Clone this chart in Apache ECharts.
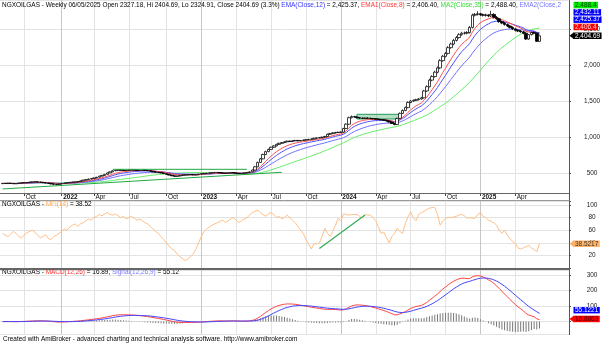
<!DOCTYPE html>
<html>
<head>
<meta charset="utf-8">
<script src="https://cdn.jsdelivr.net/npm/echarts@6.0.0/dist/echarts.min.js"></script>
<style>
html,body{margin:0;padding:0;background:#fff;}
#chart{width:612px;height:345px;}
</style>
</head>
<body>
<div id="chart"></div>
<script>
// ---------------- data (weekly bars) ----------------
const firstWeek = '2021-08-06';
const lastBarLabel = '2025-06-05';
const trailingSlots = 11;

const opens = [356,360,358,362,360,355,358,365,368,370,
 372,378,380,382,378,376,370,365,360,352,
 348,345,352,358,365,370,375,378,380,385,
 395,405,412,420,428,435,445,460,470,485,
 505,520,535,540,545,542,538,540,545,548,
 545,540,542,545,540,535,528,520,515,510,
 505,495,485,475,465,458,462,470,475,478,
 480,482,478,480,488,495,498,500,505,508,
 512,510,505,502,500,505,510,505,500,495,
 498,505,512,520,545,590,650,700,760,800,
 830,860,880,900,915,925,935,945,940,950,
 955,950,955,960,965,970,975,985,990,995,
 1000,1010,1040,1050,1060,1065,1068,1070,1120,1180,
 1270,1285,1280,1270,1265,1260,1265,1262,1258,1255,
 1250,1245,1240,1235,1225,1210,1190,1175,1260,1330,
 1370,1410,1480,1500,1510,1520,1530,1545,1640,1700,
 1790,1840,1900,1960,2060,2120,2160,2240,2290,2340,
 2380,2420,2440,2440,2450,2520,2690,2700,2710,2695,
 2690,2690,2680,2700,2660,2640,2600,2580,2560,2540,
 2520,2500,2480,2470,2460,2440,2360,2420,2450,2440,
 2327.18];

const closes = [360,358,362,360,355,358,365,368,370,372,
 378,380,382,378,376,370,365,360,352,348,
 345,352,358,365,370,375,378,380,385,395,
 405,412,420,428,435,445,460,470,485,505,
 520,535,540,545,542,538,540,545,548,545,
 540,542,545,540,535,528,520,515,510,505,
 495,485,475,465,458,462,470,475,478,480,
 482,478,480,488,495,498,500,505,508,512,
 510,505,502,500,505,510,505,500,495,498,
 505,512,520,545,590,650,700,760,800,830,
 860,880,900,915,925,935,945,940,950,955,
 950,955,960,965,970,975,985,990,995,1000,
 1010,1040,1050,1060,1065,1068,1070,1120,1180,1270,
 1285,1280,1270,1265,1260,1265,1262,1258,1255,1250,
 1245,1240,1235,1225,1210,1190,1175,1260,1330,1370,
 1410,1480,1500,1510,1520,1530,1545,1640,1700,1790,
 1840,1900,1960,2060,2120,2160,2240,2290,2340,2380,
 2420,2440,2440,2450,2520,2690,2700,2710,2695,2690,
 2690,2680,2700,2660,2640,2600,2580,2560,2540,2520,
 2500,2480,2470,2460,2440,2360,2420,2450,2440,2328,
 2404.69];

const highs = [364,363,366,365,362,361,368,372,374,376,
 382,385,386,386,382,379,374,368,363,356,
 351,355,362,368,374,379,382,384,389,399,
 409,417,425,433,440,451,466,477,492,512,
 526,541,547,551,550,547,545,550,554,553,
 550,546,549,550,544,539,532,524,519,514,
 509,499,489,479,469,466,474,479,482,484,
 486,486,484,492,499,502,505,510,513,517,
 517,514,509,506,509,515,514,509,504,502,
 509,517,526,552,600,662,712,772,812,842,
 870,890,910,925,933,943,953,952,958,963,
 962,961,966,971,976,981,992,997,1002,1008,
 1018,1050,1060,1070,1074,1076,1079,1130,1192,1285,
 1300,1296,1290,1280,1274,1274,1274,1270,1266,1263,
 1258,1253,1248,1243,1233,1218,1198,1270,1342,1385,
 1425,1495,1515,1522,1532,1542,1560,1655,1718,1810,
 1858,1920,1980,2080,2140,2180,2262,2310,2360,2400,
 2440,2460,2462,2468,2540,2712,2720,2745,2722,2712,
 2710,2705,2750,2718,2678,2655,2615,2595,2575,2556,
 2536,2516,2495,2485,2476,2455,2430,2462,2465,2452,
 2404.69];

const lows = [352,355,355,357,352,351,355,362,364,366,
 368,374,376,375,372,366,361,356,348,344,
 341,342,349,355,361,366,371,374,377,382,
 391,401,408,416,423,430,441,455,465,480,
 500,515,530,535,537,533,533,535,541,540,
 535,536,538,535,530,523,515,510,505,500,
 491,481,471,461,453,454,458,466,471,474,
 476,474,474,476,484,491,494,496,501,504,
 506,501,498,496,496,501,501,496,491,490,
 494,501,508,516,540,585,644,694,752,792,
 822,852,872,892,908,918,928,933,932,943,
 943,942,948,953,958,963,968,978,983,988,
 992,1002,1032,1042,1052,1057,1060,1062,1112,1172,
 1260,1272,1262,1257,1252,1252,1254,1250,1247,1243,
 1237,1232,1227,1217,1202,1182,1165,1168,1252,1320,
 1360,1400,1470,1490,1500,1510,1520,1535,1628,1690,
 1775,1825,1885,1945,2045,2105,2145,2225,2275,2325,
 2365,2405,2422,2425,2435,2505,2672,2685,2680,2672,
 2670,2662,2665,2645,2625,2585,2565,2545,2525,2505,
 2485,2465,2455,2445,2425,2345,2350,2408,2425,2318,
 2324.91];

const mfiValues = [55,52,50,54,58,55,50,48,52,56,
 58,60,57,52,48,50,53,47,45,50,
 52,55,58,62,60,65,68,70,66,70,
 72,75,78,76,80,82,85,83,86,88,
 85,84,86,83,80,82,78,80,82,79,
 76,78,75,72,70,66,62,58,55,50,
 45,40,35,30,28,22,18,15,12,14,
 18,22,30,40,50,58,62,65,68,70,
 72,74,76,72,75,78,80,76,72,75,
 78,80,84,88,90,92,88,85,82,86,
 88,85,80,82,78,80,84,80,76,72,
 66,60,55,45,38,30,39,38,40,50,
 63,55,50,58,68,79,75,86,85,84,
 85,85,85,82,79,85,84,84,80,75,
 65,55,57,48,40,50,55,63,58,55,
 70,81,89,80,75,85,88,90,93,95,
 96,96,85,68,75,79,80,80,81,82,
 84,85,83,79,80,79,79,85,88,82,
 80,76,74,72,68,60,55,60,52,47,
 42,39,32,30,32,34,36,32,29,26,
 38.52];

// drawn trend lines / channel (date, value)
const priceTrendA = [['2021-08-06', 283], ['2023-08-04', 514]];
const priceTrendB = [['2022-05-20', 555], ['2023-05-05', 555]];
const priceChannel = [['2024-02-16', 1317], ['2024-06-07', 1252]];
const mfiTrend = [['2023-11-10', 31], ['2024-03-08', 84]];

// last values as printed by the source
const lastMA35 = 2488.40, lastEMA2 = 2432.11, lastEMA12 = 2425.37, lastEMA8 = 2406.40, lastClose = 2404.69;
const lastMFI = 38.5217, lastMACD = 16.8863, lastSignal = 55.1221;

// ---------------- derived ----------------
const DAY = 86400000;
const t0 = Date.parse(firstWeek + 'T00:00:00Z');
const iso = ms => new Date(ms).toISOString().slice(0, 10);
const categories = [iso(t0 - 7 * DAY)];
for (let w = 0; w < closes.length; w++) categories.push(w === closes.length - 1 ? lastBarLabel : iso(t0 + 7 * w * DAY));
for (let k = 1; k <= trailingSlots; k++) categories.push('+' + k);
const NB = closes.length;
const pad = arr => ['-'].concat(arr, new Array(trailingSlots).fill('-'));

function ema(src, n) { const a = 2 / (n + 1); const out = []; let e = src[0]; src.forEach((v, i) => { e = i ? a * v + (1 - a) * e : v; out.push(+e.toFixed(2)); }); return out; }
function sma(src, n) { const out = []; let s = 0; src.forEach((v, i) => { s += v; if (i >= n) s -= src[i - n]; out.push(+(s / Math.min(i + 1, n)).toFixed(2)); }); return out; }

const candles = closes.map((c, i) => [opens[i], c, lows[i], highs[i]]);
const ema8 = ema(closes, 8), ema12 = ema(closes, 12), ema21 = ema(closes, 21), ma35 = sma(closes, 35);
const ema26 = ema(closes, 26);
const macd = ema12.map((v, i) => +(v - ema26[i]).toFixed(2));
const signal = ema(macd, 9);
const hist = macd.map((v, i) => +(v - signal[i]).toFixed(2));
const hAbs = Math.abs(Math.min(...hist));

const monthNames = ['Jan','Feb','Mar','Apr','May','Jun','Jul','Aug','Sep','Oct','Nov','Dec'];
const dOf = i => new Date(categories[i] + 'T00:00:00Z');
function isQuarterStart(i) {
  if (i < 1 || i > NB) return false;
  const m = dOf(i).getUTCMonth();
  return m !== dOf(i - 1).getUTCMonth() && m % 3 === 0;
}

const FS = 6.45, FF = '"Liberation Sans", Arial, sans-serif';
const gridCol = '#e3e3e3';
const splitX = { show: true, interval: (i) => isQuarterStart(i), lineStyle: { color: [gridCol, '#c6c6c6', gridCol, gridCol], width: 1 } };

function xAx(grid, showLabels) {
  return {
    type: 'category', gridIndex: grid, data: categories, boundaryGap: false,
    axisLine: { show: false },
    axisTick: { show: showLabels, interval: (i) => isQuarterStart(i), length: 3, lineStyle: { color: '#444' } },
    axisLabel: {
      show: showLabels, interval: (i) => isQuarterStart(i), align: 'left', margin: 1, padding: [0, 0, 0, 1.5],
      fontSize: FS, fontFamily: FF, color: '#111',
      formatter: (v) => { const d = new Date(v + 'T00:00:00Z'); const m = d.getUTCMonth(); return m === 0 ? '{y|' + d.getUTCFullYear() + '}' : monthNames[m]; },
      rich: { y: { fontWeight: 'bold', fontSize: FS, fontFamily: FF, color: '#111' } }
    },
    splitLine: splitX
  };
}
function yAx(grid, cfg) {
  return Object.assign({
    type: 'value', gridIndex: grid, position: 'right', scale: true,
    axisLine: { show: false },
    axisTick: { show: true, length: 2, lineStyle: { color: '#555' } },
    splitLine: { show: true, lineStyle: { color: gridCol, width: 1 } }
  }, cfg);
}
const yLab = (fmt, edges) => ({ fontSize: FS, fontFamily: FF, color: '#222', margin: 23, align: 'center', showMinLabel: edges, showMaxLabel: edges, formatter: fmt });

const rt = (s, c) => '{' + c + '|' + s + '}';
const tStyle = c => ({ color: c, fontSize: FS, fontFamily: FF, fontWeight: 'normal' });
const titleRich = { k: tStyle('#000'), b: tStyle('#3333ff'), r: tStyle('#ff3333'), g: tStyle('#33dd33'), o: tStyle('#ffaa55'), p: tStyle('#7777ff') };
const tTitle = (left, top, text) => ({ left, top, padding: 0, text, textStyle: { fontWeight: 'normal', fontSize: FS, fontFamily: FF, rich: titleRich } });

const option = {
  animation: false,
  backgroundColor: '#fff',
  title: [
    tTitle(2, 2, rt('NGXOILGAS - Weekly 06/05/2025 Open 2327.18, Hi 2404.69, Lo 2324.91, Close 2404.69 (3.3%) ', 'k') + rt('EMA(Close,12)', 'b') + rt(' = 2,425.37, ', 'k') + rt('EMA1(Close,8)', 'r') + rt(' = 2,406.40, ', 'k') + rt('MA2(Close,35)', 'g') + rt(' = 2,488.40, ', 'k') + rt('EMA2(Close,2', 'p')),
    tTitle(2, 201.5, rt('NGXOILGAS - ', 'k') + rt('MFI(14)', 'o') + rt(' = 38.52', 'k')),
    tTitle(2, 269.5, rt('NGXOILGAS - ', 'k') + rt('MACD(12,26)', 'r') + rt(' = 16.89, ', 'k') + rt('Signal(12,26,9)', 'p') + rt(' = 55.12', 'k')),
    tTitle(3, 336.5, rt('Created with AmiBroker - advanced charting and technical analysis software. http://www.amibroker.com', 'k'))
  ],
  grid: [
    { left: 0, right: 43, top: 0, height: 193 },
    { left: 0, right: 43, top: 201, height: 67 },
    { left: 0, right: 43, top: 270, height: 64 }
  ],
  xAxis: [xAx(0, true), xAx(1, false), xAx(2, false)],
  yAxis: [
    yAx(0, { min: 227, max: 2900, splitNumber: 5, axisLabel: yLab(v => v.toLocaleString('en-US'), false) }),
    yAx(1, { min: 0, max: 106.4, interval: 20, axisLabel: yLab(v => (v > 0 && v <= 100 ? String(v) : ''), true) }),
    yAx(2, { min: -80, max: 332, splitNumber: 4, axisLabel: yLab(v => (v > 0 ? String(v) : ''), false) }),
    { type: 'value', gridIndex: 2, show: false, min: -1.19 * hAbs, max: 4.96 * hAbs, splitLine: { show: false } }
  ],
  series: [
    { type: 'candlestick', xAxisIndex: 0, yAxisIndex: 0, data: pad(candles), barWidth: 3,
      itemStyle: { color: '#ffffff', color0: '#000000', borderColor: '#111111', borderColor0: '#000000', borderWidth: 0.8 },
      markArea: { silent: true, itemStyle: { color: 'rgba(40,170,90,0.35)', borderColor: '#22995a', borderWidth: 1 },
        data: [[{ coord: [priceChannel[0][0], priceChannel[0][1]] }, { coord: [priceChannel[1][0], priceChannel[1][1]] }]] } },
    { type: 'line', name: 'MA35', data: pad(ma35), showSymbol: false, lineStyle: { color: '#66ee66', width: 1 }, xAxisIndex: 0, yAxisIndex: 0, z: 1 },
    { type: 'line', name: 'EMA21', data: pad(ema21), showSymbol: false, lineStyle: { color: '#7070ff', width: 1 }, xAxisIndex: 0, yAxisIndex: 0, z: 1 },
    { type: 'line', name: 'EMA12', data: pad(ema12), showSymbol: false, lineStyle: { color: '#5050ff', width: 1 }, xAxisIndex: 0, yAxisIndex: 0, z: 1 },
    { type: 'line', name: 'EMA8', data: pad(ema8), showSymbol: false, lineStyle: { color: '#ff5050', width: 1 }, xAxisIndex: 0, yAxisIndex: 0, z: 1 },
    { type: 'line', data: priceTrendA, showSymbol: false, lineStyle: { color: '#22aa44', width: 1 }, xAxisIndex: 0, yAxisIndex: 0, z: 3 },
    { type: 'line', data: priceTrendB, showSymbol: false, lineStyle: { color: '#22aa44', width: 1 }, xAxisIndex: 0, yAxisIndex: 0, z: 3 },
    { type: 'line', data: pad(mfiValues), showSymbol: false, lineStyle: { color: '#ffc088', width: 1 }, xAxisIndex: 1, yAxisIndex: 1 },
    { type: 'line', data: mfiTrend, showSymbol: false, lineStyle: { color: '#33aa55', width: 1.2 }, xAxisIndex: 1, yAxisIndex: 1, z: 3 },
    { type: 'bar', data: pad(hist), barWidth: 1, itemStyle: { color: '#777' }, xAxisIndex: 2, yAxisIndex: 3 },
    { type: 'line', data: pad(macd), showSymbol: false, lineStyle: { color: '#ff4444', width: 1 }, xAxisIndex: 2, yAxisIndex: 2, z: 3 },
    { type: 'line', data: pad(signal), showSymbol: false, lineStyle: { color: '#4444ff', width: 1 }, xAxisIndex: 2, yAxisIndex: 2, z: 3 }
  ]
};

const chart = echarts.init(document.getElementById('chart'), null, { renderer: 'canvas' });
chart.setOption(option);

// value tags on the right axis, stacked like the source
const AX = 569.5;
function tag(y, text, bg, fg, arrow) {
  const els = [{ type: 'text', z: 100, x: 573.5, y: y, style: { text: text, fill: fg, backgroundColor: bg, padding: [0.5, 1.5, 0, 1.5], font: FS + 'px ' + FF, verticalAlign: 'middle' } }];
  if (arrow) els.push({ type: 'polygon', z: 100, shape: { points: [[AX, y], [574, y - 3.5], [574, y + 3.5]] }, style: { fill: bg } });
  return els;
}
function stack(items, yAxisIndex) {
  const px = items.map(it => Object.assign({}, it, { y: chart.convertToPixel({ yAxisIndex }, it.v) }));
  px.sort((a, b) => a.v - b.v);
  for (let i = 1; i < px.length; i++) { const gap = px[i - 1].arrow ? 8.8 : 7.3; px[i].y = Math.min(px[i].y, px[i - 1].y - gap); }
  return px.flatMap(it => tag(it.y, it.t, it.bg, it.fg, it.arrow));
}
const g = [];
// clip the header where the axis strip begins
g.push({ type: 'rect', z: 90, shape: { x: 568, y: 0, width: 44, height: 11 }, style: { fill: '#fff' } });
g.push(...stack([
  { v: lastClose, t: '2,404.69', bg: '#000', fg: '#fff', arrow: true },
  { v: lastEMA8, t: '2,406.4', bg: '#ff0000', fg: '#ffd0d0' },
  { v: lastEMA12, t: '2,425.37', bg: '#0000ff', fg: '#fff' },
  { v: lastEMA2, t: '2,432.11', bg: '#0000ff', fg: '#fff' },
  { v: lastMA35, t: '2,488.4', bg: '#00ee00', fg: '#004400' }
], 0));
g.push(...stack([{ v: lastMFI, t: '38.5217', bg: '#ffb366', fg: '#333', arrow: true }], 1));
g.push(...stack([
  { v: lastMACD, t: '16.8863', bg: '#ff0000', fg: '#440000', arrow: true },
  { v: lastSignal, t: '55.1221', bg: '#0000ff', fg: '#fff' }
], 2));
// frame lines
const ln = (x1, y1, x2, y2, c, w) => ({ type: 'line', z: 95, shape: { x1, y1, x2, y2 }, style: { stroke: c, lineWidth: w } });
g.push(ln(AX, 0, AX, 335, '#555', 1));
g.push(ln(0, 193.5, AX, 193.5, '#666', 1));
g.push(ln(0, 200.5, AX, 200.5, '#999', 1));
g.push(ln(0, 269, AX, 269, '#666', 2));
chart.setOption({ graphic: g });
</script>
</body>
</html>
